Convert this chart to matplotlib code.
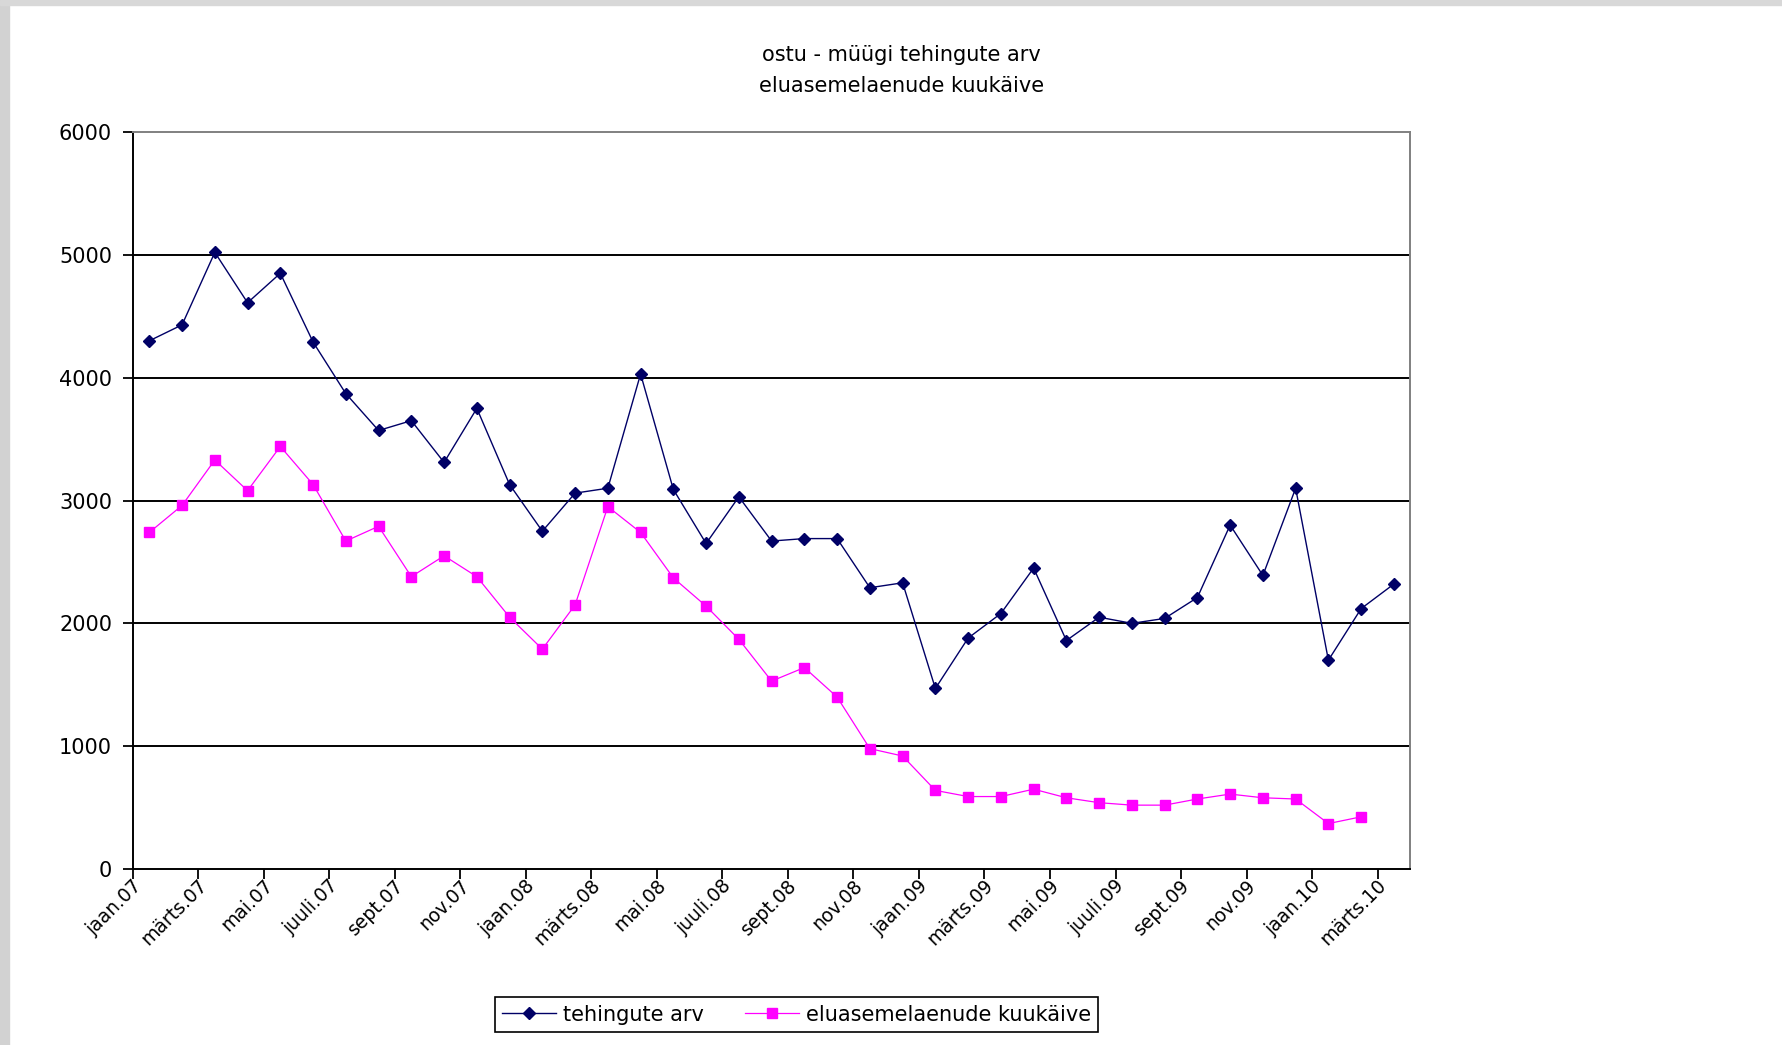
import numpy as np
import matplotlib
matplotlib.use('Agg')
import matplotlib.pyplot as plt
from matplotlib.patches import Rectangle
from matplotlib.transforms import ScaledTranslation

plt.rcParams['font.family'] = ['DejaVu Sans']

# kuud (kategooriad)
months = ['jaan', 'veebr', 'märts', 'apr', 'mai', 'juuni',
          'juuli', 'aug', 'sept', 'okt', 'nov', 'dets']
categories = [m + '.' + y for y in ['07', '08', '09'] for m in months] + \
             ['jaan.10', 'veebr.10', 'märts.10']

# ostu - müügi tehingute arv
tehingute_arv = [4300, 4430, 5020, 4610, 4850, 4290, 3870, 3570, 3650, 3310,
                 3750, 3130, 2750, 3060, 3100, 4030, 3090, 2650, 3030, 2670,
                 2690, 2690, 2290, 2330, 1470, 1880, 2080, 2450, 1860, 2050,
                 2000, 2040, 2210, 2800, 2390, 3100, 1700, 2120, 2320]

# eluasemelaenude kuukäive, märts.10 puudub
laenude_kuukaive = [2740, 2960, 3330, 3080, 3440, 3130, 2670, 2790, 2380, 2550,
                    2380, 2050, 1790, 2150, 2950, 2740, 2370, 2140, 1870, 1530,
                    1640, 1400, 980, 920, 640, 590, 590, 650, 580, 540,
                    520, 520, 570, 610, 580, 570, 370, 425]

yticks = [0, 1000, 2000, 3000, 4000, 5000, 6000]

fig = plt.figure(figsize=(17.82, 10.45), dpi=100)
fig.patch.set_facecolor('white')
# hall raam vasakul ja üleval
fig.patches.append(Rectangle((0, 0), 9 / 1782, 1, transform=fig.transFigure,
                             color='#d2d2d2', zorder=0))
fig.patches.append(Rectangle((0, 1 - 5 / 1045), 1, 5 / 1045, transform=fig.transFigure,
                             color='#d8d8d8', zorder=0))

ax = fig.add_axes([0.0746, 0.1684, 0.7168, 0.7053])

x = np.arange(len(categories))
ax.plot(x, tehingute_arv, color='#000066', lw=1.0, marker='D', markersize=6.5,
        label='tehingute arv', zorder=3)
ax.plot(np.arange(len(laenude_kuukaive)), laenude_kuukaive, color='#ff00ff', lw=0.9,
        marker='s', markersize=6.5, markeredgecolor='#ff00ff', label='eluasemelaenude kuukäive',
        zorder=3)

ax.set_xlim(-0.5, len(categories) - 0.5)
ax.set_ylim(0, 6000)
ax.set_yticks(yticks)
ax.set_yticklabels([str(v) for v in yticks], fontsize=15)
for v in yticks[1:-1]:
    ax.axhline(v, color='black', lw=1.4, zorder=1)

# sildid iga teise kuu kohta, kriipsud kategooriate vahel
ax.set_xticks(x[::2])
ax.set_xticklabels(categories[::2], rotation=45, ha='right', va='top',
                   rotation_mode='anchor', fontsize=13.5)
ax.set_xticks(np.arange(-0.5, len(categories), 2), minor=True)
ax.tick_params(axis='x', which='major', length=0, pad=5)
ax.tick_params(axis='x', which='minor', length=7, width=1.3, direction='out')
ax.tick_params(axis='y', length=7, width=1.3, direction='out', pad=8)
off = ScaledTranslation(-17 / 100, 0, fig.dpi_scale_trans)
for lab in ax.get_xticklabels():
    lab.set_transform(lab.get_transform() + off)

ax.spines['left'].set_color('black')
ax.spines['left'].set_linewidth(1.4)
ax.spines['bottom'].set_color('black')
ax.spines['bottom'].set_linewidth(1.4)
ax.spines['top'].set_color('#808080')
ax.spines['top'].set_linewidth(1.4)
ax.spines['right'].set_color('#808080')
ax.spines['right'].set_linewidth(1.4)

fig.text(0.5057, 0.947, 'ostu - müügi tehingute arv', ha='center', va='center', fontsize=15)
fig.text(0.5057, 0.918, 'eluasemelaenude kuukäive', ha='center', va='center', fontsize=15)

leg = ax.legend(loc='center', bbox_to_anchor=(0.447, 0.029), bbox_transform=fig.transFigure,
                ncol=2, frameon=True, fancybox=False, edgecolor='black', framealpha=1,
                fontsize=15, handlelength=2.6, columnspacing=2.0, handletextpad=0.3,
                borderpad=0.35)
leg.get_frame().set_linewidth(1.2)

fig.savefig('out.png', dpi=100)
